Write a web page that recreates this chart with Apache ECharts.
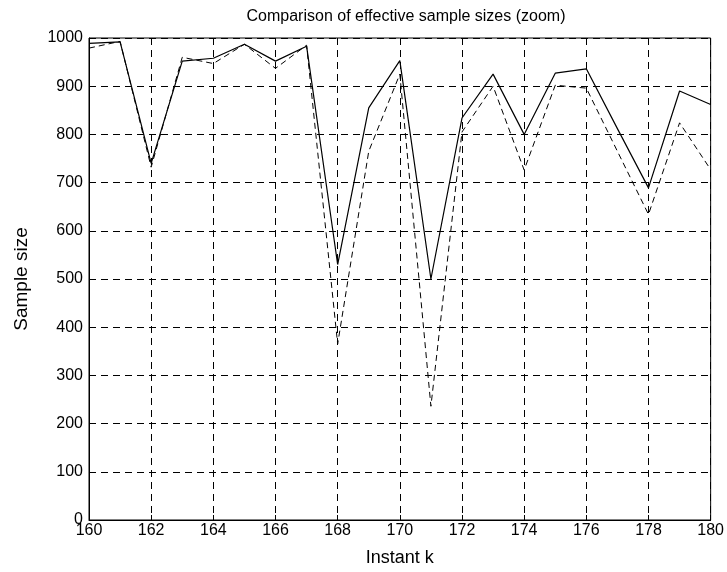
<!DOCTYPE html>
<html>
<head>
<meta charset="utf-8">
<script src="https://cdn.jsdelivr.net/npm/echarts@6/dist/echarts.min.js"></script>
<style>html,body{margin:0;padding:0;background:#fff}#c{width:727px;height:572px}</style>
</head>
<body>
<div id="c"></div>
<script>
const instants = [160,161,162,163,164,165,166,167,168,169,170,171,172,173,174,175,176,177,178,179,180];
const solidSeries = [989,992,740,952,958,987,952,983,530,855,953,500,834,925,800,927,936,812,689,890,862];
const dashedSeries = [979,993,732,960,947,987,937,985,365,765,925,236,805,900,726,902,896,765,634,824,727];

const chart = echarts.init(document.getElementById('c'), null, {renderer:'canvas'});
const font = 'Liberation Sans, Arial, sans-serif';
chart.setOption({
  animation: false,
  backgroundColor: '#fff',
  title: {
    text: 'Comparison of effective sample sizes (zoom)',
    left: 401, top: 4, textAlign: 'center',
    textStyle: {fontFamily: font, fontSize: 16, fontWeight: 'normal', color: '#000'}
  },
  grid: {left: 89, right: 14, top: 38, bottom: 52, show: true, borderColor: '#000', borderWidth: 1, backgroundColor: 'transparent'},
  xAxis: {
    type: 'value', min: 160, max: 180, interval: 2,
    name: 'Instant k', nameLocation: 'middle', nameGap: 29,
    nameTextStyle: {fontFamily: font, fontSize: 18, color: '#000'},
    axisLine: {show: true, lineStyle: {color: '#000'}},
    axisTick: {show: true, inside: true, length: 5, lineStyle: {color: '#000'}},
    axisLabel: {fontFamily: font, fontSize: 16, color: '#000', margin: 3, formatter: v => String(v)},
    splitLine: {show: true, lineStyle: {color: '#000', type: [7,5], width: 1}}
  },
  yAxis: {
    type: 'value', min: 0, max: 1000, interval: 100,
    name: 'Sample size', nameLocation: 'middle', nameGap: 58, nameRotate: 90,
    nameTextStyle: {fontFamily: font, fontSize: 19, color: '#000'},
    axisLine: {show: true, lineStyle: {color: '#000'}},
    axisTick: {show: true, inside: true, length: 5, lineStyle: {color: '#000'}},
    axisLabel: {fontFamily: font, fontSize: 16, color: '#000', margin: 6, formatter: v => String(v)},
    splitLine: {show: true, lineStyle: {color: '#000', type: [7,5], width: 1}}
  },
  series: [
    {type: 'line', data: instants.map((x,i)=>[x, solidSeries[i]]), symbol: 'none',
     lineStyle: {color: '#000', width: 1.2, type: 'solid'}},
    {type: 'line', data: instants.map((x,i)=>[x, dashedSeries[i]]), symbol: 'none',
     lineStyle: {color: '#000', width: 1, type: [6,4]}}
  ]
});
</script>
</body>
</html>
